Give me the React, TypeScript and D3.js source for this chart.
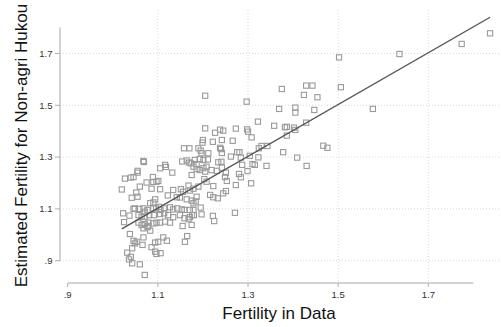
import React from "react";
import * as d3 from "d3";

// Observed fertility (x) and model-estimated fertility for non-agri hukou (y)
const dataFertility: number[] = [
  1.837, 1.774, 1.636, 1.502, 1.429, 1.443, 1.424, 1.454, 1.506, 1.375,
  1.577, 1.447, 1.429, 1.467, 1.476, 1.369, 1.405, 1.405, 1.297, 1.205,
  1.322, 1.358, 1.382, 1.386, 1.402, 1.405, 1.386, 1.298, 1.300, 1.308,
  1.330, 1.343, 1.324, 1.378, 1.409, 1.323, 1.281, 1.276, 1.304, 1.262,
  1.430, 1.341, 1.310, 1.287, 1.299, 1.280, 1.284, 1.251, 1.273, 1.307,
  1.251, 1.271, 1.284, 1.227, 1.238, 1.245, 1.273, 1.205, 1.200, 1.199,
  1.222, 1.242, 1.266, 1.158, 1.170, 1.190, 1.195, 1.197, 1.212, 1.238,
  1.240, 1.242, 1.068, 1.069, 1.154, 1.164, 1.169, 1.173, 1.182, 1.193,
  1.201, 1.211, 1.234, 1.241, 1.186, 1.116, 1.118, 1.105, 1.132, 1.055,
  1.055, 1.179, 1.186, 1.193, 1.205, 1.208, 1.201, 1.219, 1.231, 1.242,
  1.315, 1.175, 1.027, 1.040, 1.046, 1.089, 1.075, 1.090, 1.097, 1.101,
  1.060, 1.086, 1.105, 1.168, 1.179, 1.171, 1.190, 1.151, 1.156, 1.134,
  1.203, 1.208, 1.249, 1.253, 1.223, 1.020, 1.052, 1.055, 1.042, 1.122,
  1.142, 1.149, 1.186, 1.216, 1.223, 1.233, 1.245, 1.175, 1.179, 1.184,
  1.164, 1.094, 1.090, 1.083, 1.023, 1.037, 1.046, 1.049, 1.059, 1.068,
  1.071, 1.077, 1.090, 1.096, 1.103, 1.106, 1.114, 1.127, 1.134, 1.143,
  1.153, 1.159, 1.171, 1.179, 1.195, 1.197, 1.176, 1.171, 1.057, 1.064,
  1.071, 1.081, 1.091, 1.105, 1.114, 1.123, 1.134, 1.149, 1.159, 1.168,
  1.180, 1.222, 1.225, 1.057, 1.064, 1.071, 1.079, 1.090, 1.097, 1.105,
  1.116, 1.127, 1.155, 1.175, 1.068, 1.077, 1.083, 1.079, 1.038, 1.046,
  1.053, 1.049, 1.068, 1.094, 1.101, 1.112, 1.120, 1.165, 1.160, 1.066,
  1.043, 1.086, 1.032, 1.040, 1.036, 1.043, 1.094, 1.097, 1.106, 1.060,
  1.071, 1.025,
];

const estimatedFertility: number[] = [
  1.778, 1.737, 1.698, 1.685, 1.576, 1.576, 1.540, 1.531, 1.570, 1.563,
  1.486, 1.482, 1.433, 1.344, 1.336, 1.486, 1.491, 1.472, 1.514, 1.537,
  1.437, 1.421, 1.415, 1.417, 1.414, 1.405, 1.383, 1.407, 1.398, 1.376,
  1.343, 1.343, 1.334, 1.319, 1.298, 1.299, 1.319, 1.319, 1.305, 1.302,
  1.266, 1.266, 1.273, 1.270, 1.246, 1.235, 1.222, 1.240, 1.192, 1.199,
  1.169, 1.085, 1.298, 1.394, 1.406, 1.402, 1.410, 1.411, 1.366, 1.356,
  1.359, 1.366, 1.363, 1.334, 1.334, 1.334, 1.325, 1.315, 1.315, 1.336,
  1.331, 1.316, 1.285, 1.281, 1.283, 1.287, 1.279, 1.276, 1.289, 1.293,
  1.289, 1.291, 1.280, 1.282, 1.273, 1.270, 1.262, 1.257, 1.240, 1.247,
  1.240, 1.263, 1.254, 1.250, 1.244, 1.263, 1.257, 1.250, 1.247, 1.259,
  1.270, 1.231, 1.217, 1.221, 1.223, 1.223, 1.202, 1.204, 1.205, 1.208,
  1.186, 1.178, 1.176, 1.190, 1.178, 1.171, 1.186, 1.176, 1.166, 1.173,
  1.215, 1.205, 1.223, 1.208, 1.188, 1.175, 1.163, 1.147, 1.143, 1.152,
  1.145, 1.144, 1.147, 1.154, 1.145, 1.141, 1.160, 1.132, 1.122, 1.129,
  1.137, 1.137, 1.125, 1.122, 1.083, 1.074, 1.100, 1.102, 1.100, 1.102,
  1.089, 1.096, 1.102, 1.102, 1.108, 1.096, 1.102, 1.106, 1.098, 1.102,
  1.098, 1.096, 1.096, 1.096, 1.105, 1.079, 1.076, 1.068, 1.076, 1.070,
  1.070, 1.076, 1.076, 1.080, 1.083, 1.076, 1.068, 1.076, 1.064, 1.060,
  1.076, 1.073, 1.053, 1.047, 1.038, 1.042, 1.047, 1.044, 1.047, 1.047,
  1.051, 1.047, 1.034, 1.038, 1.025, 1.029, 1.016, 1.034, 1.003, 0.977,
  0.973, 0.967, 0.990, 0.970, 0.973, 0.990, 0.977, 0.995, 0.973, 0.961,
  0.948, 0.952, 0.931, 0.915, 0.905, 0.890, 0.935, 0.926, 0.929, 0.886,
  0.845, 1.049,
];

// Axis ticks shared by both axes
const tickValues: number[] = [0.9, 1.1, 1.3, 1.5, 1.7];
const tickLabels: string[] = [".9", "1.1", "1.3", "1.5", "1.7"];

// Linear fit of estimated on observed fertility
const fitIntercept = 0.003;
const fitSlope = 1.0;

const W = 501;
const H = 327;

export default function App() {
  const x = d3.scaleLinear().domain([0.9, 1.8]).range([67.7, 473.4]);
  const y = d3.scaleLinear().domain([0.9, 1.8]).range([260.7, 27.6]);

  const axisY = 283; // x-axis baseline
  const axisX = 60; // y-axis position
  const plotTop = 10;
  const plotRight = 499;

  const [xMin, xMax] = d3.extent(dataFertility) as [number, number];
  const fitLine = d3
    .line<number>()
    .x((d) => x(d))
    .y((d) => y(fitIntercept + fitSlope * d));

  const points = dataFertility.map((d, i) => ({ fx: d, fy: estimatedFertility[i] }));
  const sq = 5.2;
  const font = "'Liberation Sans', Arial, Helvetica, sans-serif";

  return (
    <svg
      width={W}
      height={H}
      viewBox={`0 0 ${W} ${H}`}
      style={{ position: "absolute", left: 0, top: 0, background: "#fff" }}
    >
      <rect x={0} y={0} width={W} height={H} fill="#fff" />

      {/* gridlines */}
      {tickValues.map((t) => (
        <line
          key={`gy${t}`}
          x1={axisX}
          x2={plotRight}
          y1={y(t)}
          y2={y(t)}
          stroke="#d9d9d9"
          strokeWidth={1}
          strokeDasharray="1,2"
        />
      ))}
      {tickValues.slice(1).map((t) => (
        <line
          key={`gx${t}`}
          x1={x(t)}
          x2={x(t)}
          y1={plotTop}
          y2={axisY}
          stroke="#d9d9d9"
          strokeWidth={1}
          strokeDasharray="1,2"
        />
      ))}

      {/* axes */}
      <line x1={axisX} x2={axisX} y1={y(1.8)} y2={y(0.9)} stroke="#c4c4c4" strokeWidth={1.5} />
      <line x1={x(0.9)} x2={x(1.8)} y1={axisY} y2={axisY} stroke="#c4c4c4" strokeWidth={1.5} />
      {tickValues.map((t, i) => (
        <g key={`ty${t}`}>
          <line x1={axisX - 5} x2={axisX} y1={y(t)} y2={y(t)} stroke="#b0b0b0" strokeWidth={1} />
          <text
            x={axisX - 7.5}
            y={y(t)}
            dy="0.35em"
            textAnchor="end"
            fontFamily={font}
            fontSize={9.5}
            fill="#333"
          >
            {tickLabels[i]}
          </text>
        </g>
      ))}
      {tickValues.map((t, i) => (
        <g key={`tx${t}`}>
          <line x1={x(t)} x2={x(t)} y1={axisY} y2={axisY + 4} stroke="#b0b0b0" strokeWidth={1} />
          <text
            x={x(t)}
            y={298}
            textAnchor="middle"
            fontFamily={font}
            fontSize={9.5}
            fill="#333"
          >
            {tickLabels[i]}
          </text>
        </g>
      ))}

      {/* markers */}
      {points.map((p, i) => (
        <rect
          key={i}
          x={x(p.fx) - sq / 2}
          y={y(p.fy) - sq / 2}
          width={sq}
          height={sq}
          fill="none"
          stroke="#9a9a9a"
          strokeWidth={1.1}
        />
      ))}

      {/* fitted line */}
      <path d={fitLine([xMin, xMax]) ?? ""} fill="none" stroke="#555" strokeWidth={1.4} />

      {/* titles */}
      <text
        x={279}
        y={319}
        textAnchor="middle"
        fontFamily={font}
        fontSize={17}
        fill="#111"
      >
        Fertility in Data
      </text>
      <text
        transform={`translate(27,145.5) rotate(-90)`}
        textAnchor="middle"
        fontFamily={font}
        fontSize={17}
        fill="#111"
      >
        Estimated Fertility for Non-agri Hukou
      </text>
    </svg>
  );
}
